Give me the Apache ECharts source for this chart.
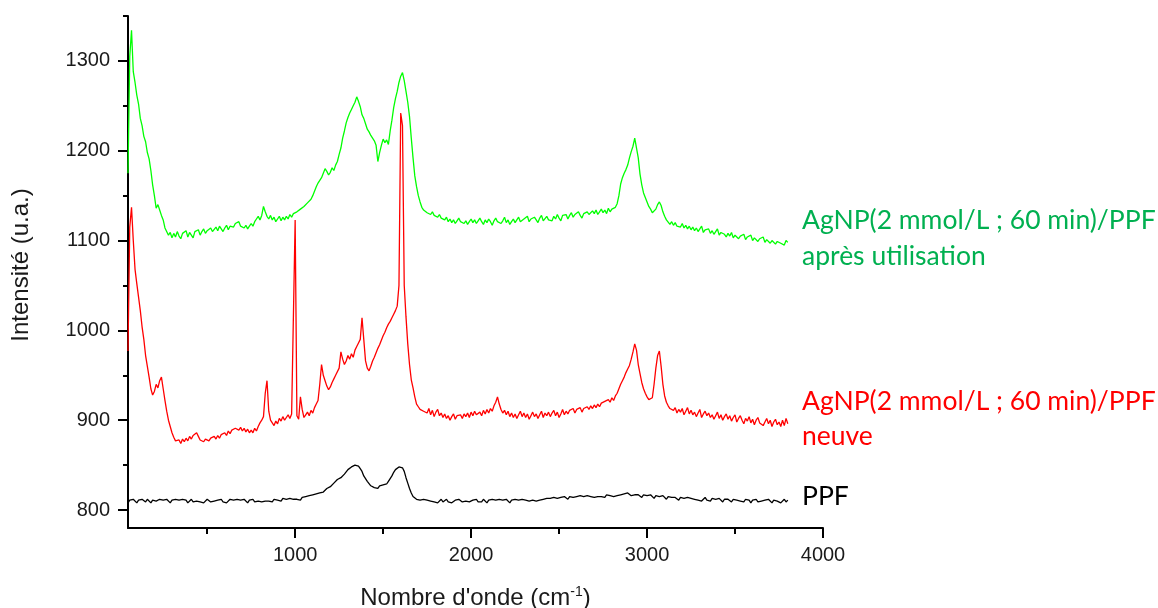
<!DOCTYPE html>
<html>
<head>
<meta charset="utf-8">
<script src="https://cdn.jsdelivr.net/npm/echarts@6/dist/echarts.min.js"></script>
<style>
html,body{margin:0;padding:0;background:#fff;}
#chart{width:1158px;height:608px;}
</style>
</head>
<body>
<div id="chart"></div>
<script>
// Wavenumber grid (cm-1): first sample and spacing
const waveStart = 50;
const waveStep = 10;

// Tick labels
const xTickValues = [1000, 2000, 3000, 4000];
const xMinorTickValues = [500, 1500, 2500, 3500];
const yTickValues = [800, 900, 1000, 1100, 1200, 1300];
const yMinorTickValues = [850, 950, 1050, 1150, 1250, 1350];

// Series names
const seriesNames = [
  'AgNP(2 mmol/L ; 60 min)/PPF après utilisation',
  'AgNP(2 mmol/L ; 60 min)/PPF neuve',
  'PPF'
];

// Intensity values (one value every 10 cm-1, 50 -> 3800)
const greenValues = [
1175,1305,1334,1288,1276,1262,1252,1236,1228,1216,
1210,1198,1191,1178,1162,1150,1136,1140,1134,1128,
1123,1114,1112,1106,1109,1103,1108,1104,1110,1105,
1102,1108,1106,1111,1104,1109,1107,1103,1110,1108,
1112,1106,1110,1113,1108,1111,1109,1114,1110,1112,
1115,1111,1116,1113,1110,1114,1117,1112,1116,1118,
1115,1119,1117,1121,1116,1118,1114,1117,1113,1116,
1119,1116,1121,1124,1127,1123,1128,1138,1132,1127,
1124,1128,1123,1126,1121,1124,1127,1122,1126,1123,
1127,1124,1129,1126,1130,1128,1132,1131,1135,1133,
1138,1136,1142,1140,1146,1150,1155,1160,1164,1166,
1170,1175,1180,1177,1173,1176,1181,1178,1184,1188,
1196,1203,1214,1222,1231,1237,1242,1246,1250,1254,
1260,1255,1249,1240,1236,1230,1224,1221,1217,1214,
1211,1206,1188,1198,1206,1213,1209,1212,1207,1222,
1234,1248,1258,1266,1276,1283,1287,1278,1266,1254,
1238,1214,1192,1172,1160,1150,1143,1137,1134,1136,
1131,1133,1129,1132,1128,1130,1126,1129,1125,1127,
1123,1126,1121,1124,1120,1123,1119,1122,1125,1121,
1123,1119,1122,1118,1121,1124,1120,1123,1119,1122,
1125,1121,1118,1123,1120,1124,1121,1117,1122,1125,
1121,1123,1119,1122,1126,1120,1123,1118,1121,1124,
1120,1123,1126,1121,1119,1124,1122,1127,1121,1124,
1122,1126,1123,1120,1125,1128,1122,1124,1127,1123,
1125,1122,1127,1124,1129,1125,1122,1128,1126,1129,
1124,1128,1131,1126,1129,1127,1132,1128,1125,1130,
1128,1132,1129,1127,1133,1130,1134,1129,1132,1135,
1131,1134,1130,1136,1132,1135,1133,1137,1141,1150,
1163,1170,1175,1179,1184,1192,1199,1205,1214,1212,
1192,1174,1162,1153,1148,1143,1138,1135,1131,1129,
1135,1140,1143,1139,1132,1127,1123,1121,1118,1121,
1117,1120,1116,1118,1115,1119,1114,1117,1113,1116,
1112,1115,1111,1114,1110,1113,1116,1109,1112,1110,
1113,1108,1111,1107,1110,1113,1106,1109,1111,1107,
1104,1108,1105,1109,1103,1106,1108,1102,1105,1103,
1107,1101,1104,1102,1106,1100,1103,1105,1099,1102,
1100,1104,1098,1101,1103,1097,1100,1102,1096,1099,
1101,1097,1099,1095,1100,1098
];

const redValues = [
977,1115,1137,1100,1068,1052,1037,1022,1004,990,
972,960,948,935,928,932,940,936,944,948,
935,922,910,900,893,886,881,877,875,878,
874,879,876,880,877,882,879,883,881,886,
882,878,880,876,879,881,877,880,878,882,
879,883,880,884,882,886,883,888,885,889,
887,891,893,889,892,888,891,887,890,886,
889,886,891,888,893,897,900,904,930,944,
910,900,897,894,899,896,902,899,904,900,
903,906,902,907,905,1123,905,901,926,912,
903,906,909,905,911,908,914,918,922,940,
962,950,944,938,934,937,942,946,950,948,
958,976,968,962,966,972,968,974,970,978,
982,986,990,1014,990,966,958,955,960,966,
970,975,980,984,989,994,998,1003,1007,1010,
1014,1018,1022,1027,1050,1242,1228,1050,1015,985,
962,945,936,926,918,915,912,914,910,912,
908,913,906,911,904,909,912,905,908,903,
907,902,905,900,904,907,901,905,903,906,
902,907,904,908,903,909,905,910,906,904,
909,905,911,907,912,908,913,910,916,920,
926,918,912,908,911,906,910,904,908,903,
907,902,906,910,904,908,903,907,901,905,
909,904,907,902,906,910,903,908,905,909,
904,908,911,905,909,903,907,912,906,910,
907,911,909,913,908,912,910,914,909,913,
911,915,912,916,913,917,914,918,915,919,
917,921,919,923,920,925,922,927,930,935,
940,944,948,953,957,961,968,976,985,978,
962,952,942,935,930,926,923,921,925,940,
958,972,977,960,940,927,920,916,913,915,
911,914,908,912,909,913,906,910,914,907,
911,906,909,904,908,912,903,907,910,905,
908,903,906,901,905,909,902,906,900,904,
907,901,905,899,903,906,898,902,905,900,
896,902,899,904,897,901,895,900,903,897,
899,894,898,902,896,900,893,898,901,895,
898,893,900,894,902,896
];

const blackValues = [
808,811,809,812,810,808,811,809,812,810,
809,812,810,808,811,813,810,809,812,810,
811,809,812,810,808,811,809,812,810,811,
809,812,810,811,808,810,812,809,811,810,
812,809,811,808,810,812,810,809,811,810,
809,811,810,812,809,811,808,810,812,810,
811,809,812,810,811,809,812,810,808,811,
810,812,809,811,810,812,809,811,810,812,
810,811,809,812,810,811,812,810,813,811,
812,810,813,811,812,814,812,813,811,814,
813,815,814,816,814,817,816,818,820,819,
821,820,822,824,823,826,828,830,832,834,
833,836,838,840,842,845,846,848,849,850,
852,849,846,843,838,836,832,830,827,828,
825,826,824,827,825,828,830,829,832,835,
838,842,845,847,848,849,847,843,836,830,
824,819,815,813,812,810,811,809,812,810,
811,809,810,812,809,811,808,810,812,809,
810,812,809,811,808,810,811,809,812,810,
809,811,810,812,809,808,811,810,812,809,
811,809,812,810,808,811,809,812,810,811,
809,812,810,811,809,812,810,808,811,810,
812,810,811,809,812,810,811,813,810,812,
811,813,810,812,811,813,812,810,813,811,
813,811,814,812,813,811,814,812,815,813,
812,815,813,814,812,815,813,816,814,815,
813,816,814,815,817,814,816,815,817,815,
816,814,817,815,816,818,815,817,816,818,
817,815,818,816,819,817,816,818,817,815,
817,816,814,817,815,816,814,817,815,813,
816,814,815,813,816,814,812,815,813,814,
812,814,813,811,814,812,813,811,814,812,
813,811,812,814,811,813,810,812,814,811,
812,810,813,811,812,810,813,811,809,812,
810,812,811,809,812,810,811,813,810,811,
809,812,810,811,808,811,810,812,809,811,
810,808,811,809,812,810,808,811,809,810,
811,808,810,812,809,811
];

function toPairs(values) {
  return values.map((v, i) => [waveStart + i * waveStep, v]);
}

const axisFont = '"Liberation Sans", Arial, sans-serif';
const labelFont = 'Lato, Carlito, Calibri, sans-serif';
const textColor = '#1a1a1a';

const chart = echarts.init(document.getElementById('chart'), null, {renderer: 'canvas'});

const axisLineStyle = {color: '#000', width: 2};
const plainNumber = (v) => String(v);

chart.setOption({
  animation: false,
  backgroundColor: '#fff',
  grid: {left: 128, right: 335, top: 16, bottom: 80, containLabel: false, outerBoundsMode: 'none'},
  xAxis: [
    {
      type: 'value', min: 50, max: 4000, position: 'bottom', offset: 0,
      name: "Nombre d'onde (cm{sup|-1})",
      nameLocation: 'middle', nameGap: 57,
      nameTextStyle: {
        fontFamily: axisFont, fontSize: 24, color: textColor,
        rich: {sup: {fontFamily: axisFont, fontSize: 14, color: textColor, verticalAlign: 'top', padding: [0, 0, 12, 0]}}
      },
      axisLine: {show: true, lineStyle: axisLineStyle},
      axisTick: {show: true, inside: false, length: 10, lineStyle: axisLineStyle, customValues: xTickValues},
      axisLabel: {show: true, margin: 17, fontFamily: axisFont, fontSize: 20, color: textColor, customValues: xTickValues, formatter: plainNumber},
      splitLine: {show: false}
    },
    {
      type: 'value', min: 50, max: 4000, position: 'bottom', offset: 0,
      axisLine: {show: false},
      axisTick: {show: true, inside: false, length: 6, lineStyle: axisLineStyle, customValues: xMinorTickValues},
      axisLabel: {show: false},
      splitLine: {show: false}
    }
  ],
  yAxis: [
    {
      type: 'value', min: 780, max: 1350, position: 'left', offset: 0,
      axisLine: {show: true, lineStyle: axisLineStyle},
      axisTick: {show: true, inside: false, length: 10, lineStyle: axisLineStyle, customValues: yTickValues},
      axisLabel: {show: true, margin: 18, fontFamily: axisFont, fontSize: 20, color: textColor, customValues: yTickValues, formatter: plainNumber},
      splitLine: {show: false}
    },
    {
      type: 'value', min: 780, max: 1350, position: 'left', offset: 0,
      axisLine: {show: false},
      axisTick: {show: true, inside: false, length: 5, lineStyle: axisLineStyle, customValues: yMinorTickValues},
      axisLabel: {show: false},
      splitLine: {show: false}
    }
  ],
  series: [
    {
      name: seriesNames[0], type: 'line', xAxisIndex: 0, yAxisIndex: 0,
      data: toPairs(greenValues), showSymbol: false, symbol: 'none',
      lineStyle: {color: '#00ff00', width: 1.3}, z: 3
    },
    {
      name: seriesNames[1], type: 'line', xAxisIndex: 0, yAxisIndex: 0,
      data: toPairs(redValues), showSymbol: false, symbol: 'none',
      lineStyle: {color: '#ff0000', width: 1.3}, z: 2
    },
    {
      name: seriesNames[2], type: 'line', xAxisIndex: 0, yAxisIndex: 0,
      data: toPairs(blackValues), showSymbol: false, symbol: 'none',
      lineStyle: {color: '#000000', width: 1.3}, z: 1
    }
  ],
  graphic: [
    {type: 'text', x: 21, y: 265, rotation: Math.PI / 2,
      style: {text: 'Intensité (u.a.)', font: '24px ' + axisFont, fill: textColor, align: 'center', verticalAlign: 'middle'}},
    {type: 'text', left: 802, top: 207, style: {text: 'AgNP(2 mmol/L ; 60 min)/PPF', font: '26.5px ' + labelFont, fill: '#00b050'}},
    {type: 'text', left: 802, top: 243, style: {text: 'après utilisation', font: '26.5px ' + labelFont, fill: '#00b050'}},
    {type: 'text', left: 802, top: 388, style: {text: 'AgNP(2 mmol/L ; 60 min)/PPF', font: '26.5px ' + labelFont, fill: '#ff0000'}},
    {type: 'text', left: 802, top: 423, style: {text: 'neuve', font: '26.5px ' + labelFont, fill: '#ff0000'}},
    {type: 'text', left: 802, top: 483, style: {text: 'PPF', font: '26.5px ' + labelFont, fill: '#000000'}}
  ]
});
</script>
</body>
</html>
